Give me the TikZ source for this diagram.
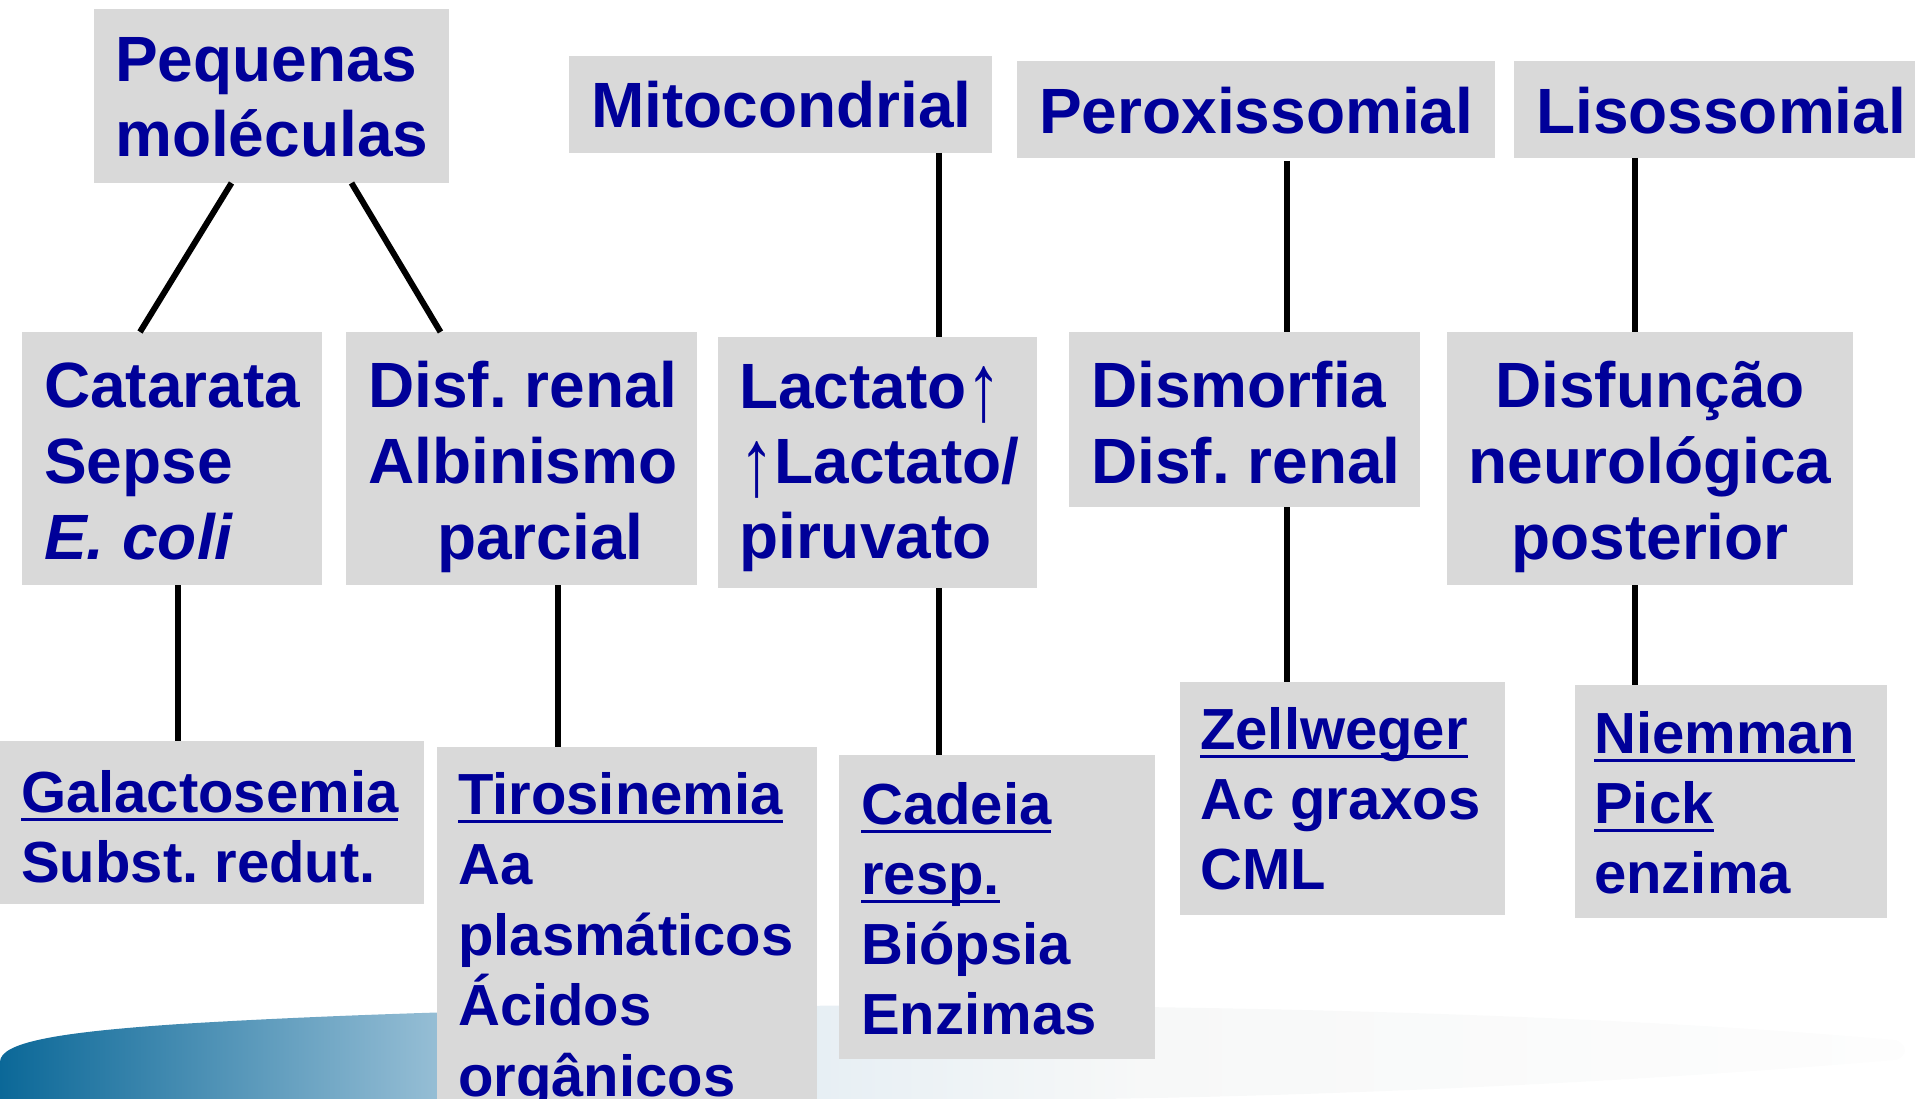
\documentclass[tikz,border=0pt]{standalone}
\usepackage{fontspec}
\setmainfont{Liberation Sans}
\usepackage{graphicx}
\usetikzlibrary{calc}
\frenchspacing
\definecolor{tx}{HTML}{000099}
\definecolor{bx}{HTML}{D9D9D9}
\definecolor{sa}{HTML}{0B6898}
\definecolor{sb}{HTML}{96BED5}
\definecolor{sc}{HTML}{E7EFF4}
\definecolor{sd}{HTML}{F7F8F8}
\definecolor{se}{HTML}{FDFDFD}
\pgfdeclarehorizontalshading{swoosh}{100bp}{color(0bp)=(sa); color(25bp)=(sa); color(36.5bp)=(sb); color(46.5bp)=(sc); color(55bp)=(sd); color(75bp)=(se); color(100bp)=(se)}
\newcommand\ulx[1]{\setbox0\hbox{#1}\rlap{\rule[-9pt]{\wd0}{3pt}}\box0}
\newcommand\uparr{\raisebox{-13pt}{\scalebox{1.1}[1.5]{\mdseries ↑}}}
\begin{document}
\begin{tikzpicture}[x=1pt,y=-1pt,
  box/.style={fill=bx, draw=none, inner sep=0, outer sep=0, anchor=north west},
  big/.style={font=\fontsize{64}{76}\selectfont\bfseries, text=tx, inner sep=0, anchor=base west},
  small/.style={font=\fontsize{58}{70}\selectfont\bfseries, text=tx, inner sep=0, anchor=base west},
  conn/.style={draw=black, line width=6pt}]
\useasboundingbox (0,0) rectangle (1915,1099);
% background swoosh
\shade[shading=swoosh] (0,1099) -- (0,1062) .. controls (0,1042) and (60,1032) .. (180,1024)
  .. controls (600,998) and (1400,996) .. (1896,1040)
  .. controls (1908,1045) and (1908,1056) .. (1896,1060)
  .. controls (1600,1085) and (1300,1096) .. (1100,1099) -- cycle;
% boxes
\node[box, minimum width=355, minimum height=174] (pm) at (94,9) {};
\node[box, minimum width=423, minimum height=97] (mit) at (569,56) {};
\node[box, minimum width=478, minimum height=97] (per) at (1017,61) {};
\node[box, minimum width=401, minimum height=97] (lis) at (1514,61) {};
\node[box, minimum width=300, minimum height=253] (cat) at (22,332) {};
\node[box, minimum width=351, minimum height=253] (dr) at (346,332) {};
\node[box, minimum width=319, minimum height=251] (lac) at (718,337) {};
\node[box, minimum width=351, minimum height=175] (dis) at (1069,332) {};
\node[box, minimum width=406, minimum height=253] (dfn) at (1447,332) {};
\node[box, minimum width=424, minimum height=163] (gal) at (0,741) {};
\node[box, minimum width=380, minimum height=352] (tir) at (437,747) {};
\node[box, minimum width=316, minimum height=304] (cad) at (839,755) {};
\node[box, minimum width=325, minimum height=233] (zel) at (1180,682) {};
\node[box, minimum width=312, minimum height=233] (nie) at (1575,685) {};
% connectors
\draw[conn] ([xshift=-40pt]pm.south) -- ([xshift=-32pt]cat.north);
\draw[conn] ([xshift=80pt]pm.south) -- ([xshift=-81pt]dr.north);
\draw[conn] ([xshift=6pt]cat.south) -- ([xshift=6pt]cat.south |- gal.north);
\draw[conn] ([xshift=36.5pt]dr.south) -- ([xshift=36.5pt]dr.south |- tir.north);
\draw[conn] ([xshift=158.5pt]mit.south) -- ([xshift=158.5pt]mit.south |- lac.north);
\draw[conn] ([xshift=61.5pt]lac.south) -- ([xshift=61.5pt]lac.south |- cad.north);
\draw[conn] ([xshift=31pt,yshift=-3pt]per.south) -- ([xshift=31pt]per.south |- dis.north);
\draw[conn] ([xshift=42.5pt]dis.south) -- ([xshift=42.5pt]dis.south |- zel.north);
\draw[conn] ([xshift=-79.5pt]lis.south) -- ([xshift=-79.5pt]lis.south |- dfn.north);
\draw[conn] ([xshift=-15pt]dfn.south) -- ([xshift=-15pt]dfn.south |- nie.north);
% texts
\node[big] (tpm) at (115,82) {\vtop{\baselineskip=75pt\hbox{Pequenas}\hbox{moléculas}}};
\node[big] (tmit) at (591,128) {Mitocondrial};
\node[big] (tper) at (1039,134) {Peroxissomial};
\node[big] (tlis) at (1536,134) {Lisossomial};
\node[big] (tcat) at (44,407) {\vtop{\hbox{Catarata}\hbox{Sepse}\hbox{\itshape E. coli}}};
\node[big] (tdr) at (368,407) {\vtop{\hbox{Disf. renal}\hbox{Albinismo}\hbox{\hspace{69pt}parcial}}};
\node[big] (tlac) at (739,408) {\vtop{\baselineskip=75pt\hbox{Lactato\uparr}\hbox{\uparr Lactato/}\hbox{piruvato}}};
\node[big] (tdis) at (1091,407) {\vtop{\hbox{Dismorfia}\hbox{Disf. renal}}};
\node[big, anchor=base] (tdfn) at (1650,407) {\vtop{\hbox to 400pt{\hfil Disfunção\hfil}\hbox to 400pt{\hfil neurológica\hfil}\hbox to 400pt{\hfil posterior\hfil}}};
\node[small] (tgal) at (21,812) {\vtop{\hbox{\ulx{Galactosemia}}\hbox{Subst. redut.}}};
\node[small] (ttir) at (458,814) {\vtop{\baselineskip=70.5pt\hbox{\ulx{Tirosinemia}}\hbox{Aa}\hbox{plasmáticos}\hbox{Ácidos}\hbox{orgânicos}}};
\node[small] (tcad) at (861,824) {\vtop{\hbox{\ulx{Cadeia}}\hbox{\ulx{resp.}}\hbox{Biópsia}\hbox{Enzimas}}};
\node[small] (tzel) at (1200,749) {\vtop{\hbox{\ulx{Zellweger}}\hbox{Ac graxos}\hbox{CML}}};
\node[small] (tnie) at (1594,753) {\vtop{\hbox{\ulx{Niemman}}\hbox{\ulx{Pick}}\hbox{enzima}}};
\end{tikzpicture}
\end{document}
